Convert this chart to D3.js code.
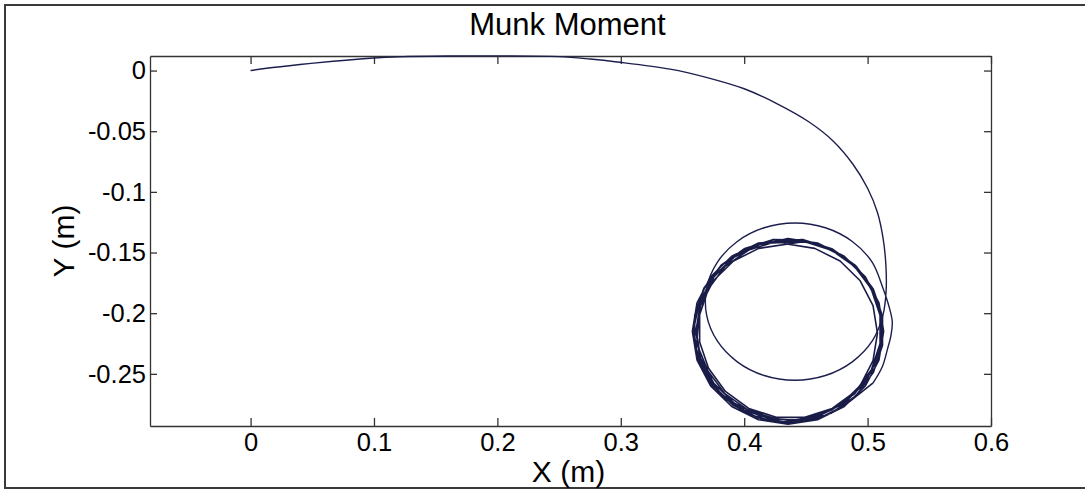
<!DOCTYPE html>
<html>
<head>
<meta charset="utf-8">
<script src="https://cdn.jsdelivr.net/npm/d3@7"></script>
<style>
  body { margin: 0; background: #fff; }
  text { font-family: "Liberation Sans", Arial, sans-serif; fill: #000; }
</style>
</head>
<body>
<svg id="chart" width="1085" height="491"></svg>
<script>
// trajectory, [x, y] in metres
var approach = [[0, 0], [0.013, 0.0019], [0.04, 0.0050], [0.067, 0.0077], [0.10, 0.0104], [0.12, 0.0113],
  [0.16, 0.0120], [0.20, 0.0121], [0.25, 0.0115], [0.275, 0.0095], [0.297, 0.0071], [0.34, 0.0012],
  [0.37, -0.0058], [0.40, -0.0150], [0.426, -0.0270], [0.452, -0.0420], [0.472, -0.0580], [0.488, -0.0770],
  [0.500, -0.0970], [0.508, -0.1170], [0.5125, -0.1380], [0.5148, -0.1600], [0.5150, -0.1820]]
var firstLoop = [[0.5124, -0.2018], [0.5038, -0.2229], [0.4876, -0.2401], [0.4658, -0.2514], [0.4410, -0.2553],
  [0.4162, -0.2514], [0.3944, -0.2401], [0.3782, -0.2229], [0.3696, -0.2018], [0.3696, -0.1792], [0.3782, -0.1581],
  [0.3944, -0.1409], [0.4162, -0.1296], [0.4410, -0.1257], [0.4658, -0.1296], [0.4876, -0.1409], [0.5038, -0.1581],
  [0.5124, -0.1792]]
var bulge = [[0.5175, -0.1950], [0.5200, -0.2070], [0.5190, -0.2180], [0.5160, -0.2300], [0.5120, -0.2440], [0.5045, -0.2575]]
var settled = [
  // partial
  [0.5045, -0.2575], [0.4815, -0.2760], [0.4600, -0.2870], [0.4362, -0.2905], [0.4120, -0.2865], [0.3905, -0.2755], [0.3735, -0.2590],
  [0.3625, -0.2375], [0.3590, -0.2130], [0.3640, -0.1900], [0.3755, -0.1695], [0.3925, -0.1530], [0.4135, -0.1425],
  // loop 2
  [0.4486, -0.1409], [0.4708, -0.1481], [0.4897, -0.1617], [0.5034, -0.1804], [0.5120, -0.2030], [0.5106, -0.2255],
  [0.5034, -0.2476], [0.4897, -0.2663], [0.4708, -0.2799], [0.4490, -0.2885], [0.4254, -0.2871], [0.4032, -0.2799],
  [0.3843, -0.2663], [0.3706, -0.2476], [0.3615, -0.2250], [0.3634, -0.2025], [0.3706, -0.1804], [0.3843, -0.1617],
  [0.4032, -0.1481], [0.4254, -0.1409],
  // loop 3
  [0.4355, -0.1385], [0.4594, -0.1422], [0.4811, -0.1531], [0.4982, -0.1700], [0.5092, -0.1914], [0.5130, -0.2150],
  [0.5092, -0.2386], [0.4982, -0.2600], [0.4811, -0.2769], [0.4594, -0.2878], [0.4355, -0.2915], [0.4116, -0.2878],
  [0.3899, -0.2769], [0.3728, -0.2600], [0.3618, -0.2386], [0.3580, -0.2150], [0.3618, -0.1914], [0.3728, -0.1700],
  [0.3899, -0.1531], [0.4116, -0.1422],
  // loop 4
  [0.4469, -0.1394], [0.4695, -0.1467], [0.4887, -0.1605], [0.5027, -0.1794], [0.5101, -0.2018], [0.5101, -0.2252],
  [0.5027, -0.2476], [0.4887, -0.2665], [0.4695, -0.2803], [0.4469, -0.2876], [0.4231, -0.2876], [0.4005, -0.2803],
  [0.3813, -0.2665], [0.3673, -0.2476], [0.3599, -0.2252], [0.3599, -0.2018], [0.3673, -0.1794], [0.3813, -0.1605],
  [0.4005, -0.1467], [0.4231, -0.1394],
  // loop 5
  [0.4365, -0.1395], [0.4598, -0.1431], [0.4809, -0.1537], [0.4976, -0.1702], [0.5083, -0.1910], [0.5120, -0.2140],
  [0.5083, -0.2370], [0.4976, -0.2578], [0.4809, -0.2743], [0.4598, -0.2849], [0.4365, -0.2885], [0.4132, -0.2849],
  [0.3921, -0.2743], [0.3754, -0.2578], [0.3647, -0.2370], [0.3610, -0.2140], [0.3647, -0.1910], [0.3754, -0.1702],
  [0.3921, -0.1537], [0.4132, -0.1431],
  // loop 6
  [0.4480, -0.1394], [0.4710, -0.1468], [0.4904, -0.1608], [0.5046, -0.1800], [0.5121, -0.2026], [0.5121, -0.2264],
  [0.5046, -0.2490], [0.4904, -0.2682], [0.4710, -0.2822], [0.4480, -0.2896], [0.4240, -0.2896], [0.4010, -0.2822],
  [0.3816, -0.2682], [0.3674, -0.2490], [0.3599, -0.2264], [0.3599, -0.2026], [0.3674, -0.1800], [0.3816, -0.1608],
  [0.4010, -0.1468], [0.4240, -0.1394],
  // loop 7
  [0.4345, -0.1430], [0.4572, -0.1466], [0.4777, -0.1570], [0.4940, -0.1733], [0.5044, -0.1938], [0.5080, -0.2165],
  [0.5044, -0.2392], [0.4940, -0.2597], [0.4777, -0.2760], [0.4572, -0.2864], [0.4345, -0.2900], [0.4118, -0.2864],
  [0.3913, -0.2760], [0.3750, -0.2597], [0.3646, -0.2392], [0.3610, -0.2165], [0.3646, -0.1938], [0.3750, -0.1733],
  [0.3913, -0.1570], [0.4118, -0.1466],
  // loop 8
  [0.4491, -0.1409], [0.4713, -0.1479], [0.4902, -0.1612], [0.5039, -0.1796], [0.5111, -0.2012], [0.5111, -0.2238],
  [0.5039, -0.2454], [0.4902, -0.2645], [0.4713, -0.2785], [0.4491, -0.2858], [0.4259, -0.2858], [0.4037, -0.2785],
  [0.3848, -0.2645], [0.3711, -0.2454], [0.3639, -0.2238], [0.3639, -0.2012], [0.3711, -0.1796], [0.3848, -0.1612],
  [0.4037, -0.1479], [0.4259, -0.1409]
]
var xTicks = [0, 0.1, 0.2, 0.3, 0.4, 0.5, 0.6]
var yTicks = [0, -0.05, -0.1, -0.15, -0.2, -0.25]
var xDomain = [-0.0815, 0.6]
var yDomain = [-0.293, 0.012]

var margin = { left: 150, right: 94, top: 56, bottom: 65 }
var svg = d3.select("#chart")
var W = 1085, H = 491
var pw = W - margin.left - margin.right, ph = H - margin.top - margin.bottom

// outer figure frame (right edge is cut off in the picture)
svg.append("path").attr("d", "M1090,5H5V488H1090").attr("fill", "none").attr("stroke", "#3a3a3a").attr("stroke-width", 2)

var xScale = d3.scaleLinear().domain(xDomain).range([margin.left, margin.left + pw])
var yScale = d3.scaleLinear().domain(yDomain).range([margin.top + ph, margin.top])

var fmt = d => d == 0 ? "0" : String(d)
var g = svg.append("g")
g.append("g").attr("transform", "translate(0," + (margin.top + ph) + ")")
  .call(d3.axisBottom(xScale).tickValues(xTicks).tickFormat(fmt).tickSizeInner(-8).tickSizeOuter(0).tickPadding(7))
g.append("g").attr("transform", "translate(0," + margin.top + ")")
  .call(d3.axisTop(xScale).tickValues(xTicks).tickFormat("").tickSizeInner(-8).tickSizeOuter(0))
g.append("g").attr("transform", "translate(" + margin.left + ",0)")
  .call(d3.axisLeft(yScale).tickValues(yTicks).tickFormat(fmt).tickSizeInner(-7).tickSizeOuter(0).tickPadding(4))
g.append("g").attr("transform", "translate(" + (margin.left + pw) + ",0)")
  .call(d3.axisRight(yScale).tickValues(yTicks).tickFormat("").tickSizeInner(-7).tickSizeOuter(0))
g.selectAll(".domain, .tick line").attr("stroke", "#333").attr("stroke-width", 1.3)
g.selectAll(".tick text").attr("font-size", 25.5).attr("font-family", "Liberation Sans, Arial, sans-serif").attr("fill", "#111")

// smooth entry and first loop, coarse-sampled settled circle
var smooth = d3.line().x(d => xScale(d[0])).y(d => yScale(d[1])).curve(d3.curveCatmullRom)
var coarse = d3.line().x(d => xScale(d[0])).y(d => yScale(d[1]))
svg.append("path").datum(approach.concat(firstLoop, bulge)).attr("d", smooth).attr("fill", "none")
  .attr("stroke", "#1c1f4e").attr("stroke-width", 1.4)
svg.append("path").datum(settled).attr("d", coarse).attr("fill", "none")
  .attr("stroke", "#1a1c48").attr("stroke-width", 1.6).attr("stroke-linejoin", "round")

svg.append("text").attr("x", margin.left + pw / 2 - 3).attr("y", 35).attr("text-anchor", "middle")
  .attr("font-size", 31).text("Munk Moment")
svg.append("text").attr("x", margin.left + pw / 2 - 2).attr("y", 482).attr("text-anchor", "middle")
  .attr("font-size", 30).text("X (m)")
svg.append("text").attr("transform", "translate(74," + (margin.top + ph / 2) + ") rotate(-90)")
  .attr("text-anchor", "middle").attr("font-size", 30).text("Y (m)")
</script>
</body>
</html>
